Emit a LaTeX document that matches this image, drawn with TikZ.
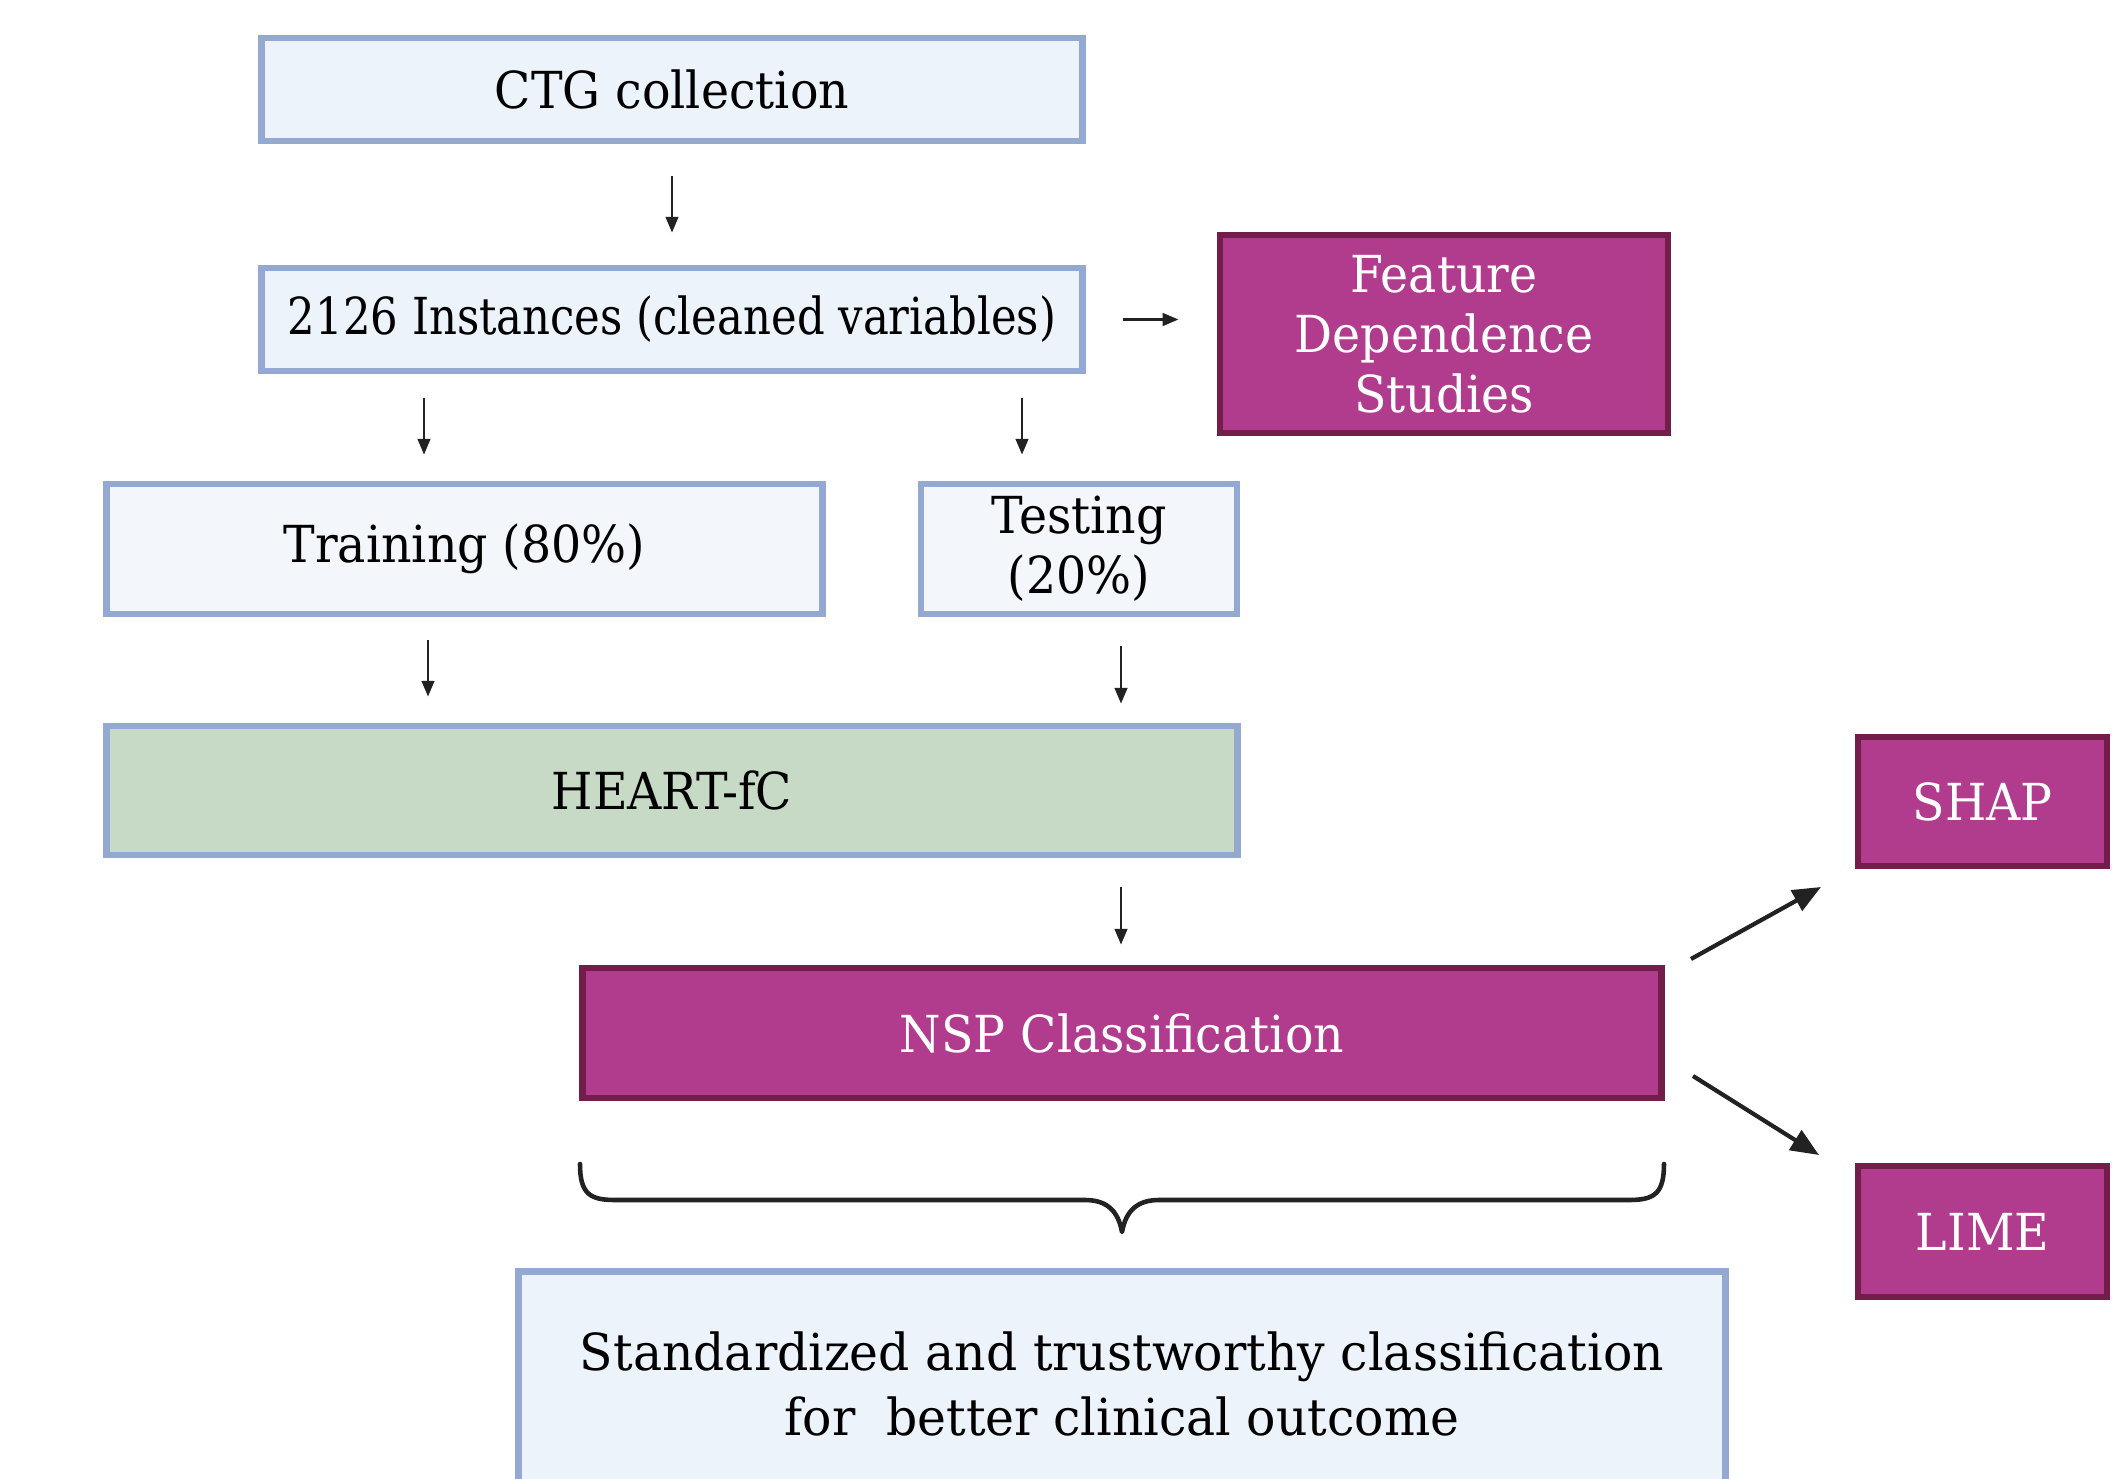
\documentclass[tikz,border=0pt]{standalone}
\usepackage{fontspec}
\setmainfont{DejaVu Serif}[FakeStretch=0.93]
\usetikzlibrary{arrows.meta}
\definecolor{bfill}{HTML}{EDF3FB}
\definecolor{tfill}{HTML}{F3F6FB}
\definecolor{bborder}{HTML}{93A9D2}
\definecolor{gfill}{HTML}{C7DAC6}
\definecolor{pfill}{HTML}{B13C8E}
\definecolor{pborder}{HTML}{731E4A}
\definecolor{arrc}{HTML}{222222}
\tikzset{
  bluebox/.style={draw=bborder, fill=bfill, line width=1.9pt, inner sep=0pt, align=center, font=\fontsize{14.5}{17}\selectfont},
  purpbox/.style={draw=pborder, fill=pfill, line width=1.9pt, inner sep=0pt, align=center, text=white, font=\fontsize{14.5}{17}\selectfont},
  thinarr/.style={draw=arrc, line width=0.7pt, -{Triangle[length=4.5pt,width=3.6pt]}},
  thickarr/.style={draw=arrc, line width=1.2pt, -{Triangle[length=8pt,width=6.5pt]}},
  bracestyle/.style={draw=arrc, line width=1.3pt, line cap=round, line join=round}
}
\begin{document}
\begin{tikzpicture}[x=0.01cm,y=-0.01cm]
\useasboundingbox (0,0) rectangle (2123,1479);
\fill[white] (0,0) rectangle (2123,1479);
\clip (0,0) rectangle (2123,1479);

\node[bluebox, minimum width=8.20cm, minimum height=1.03cm] (ctg) at (672,89.5) {CTG collection};
\node[bluebox, minimum width=8.20cm, minimum height=1.03cm] (inst) at (672,319.5) {\scalebox{0.915}[1]{2126 Instances (cleaned variables)}};
\node[purpbox, minimum width=4.48cm, minimum height=1.98cm] (feat) at (1444,334) {Feature\\Dependence\\Studies};
\node[bluebox, fill=tfill, minimum width=7.15cm, minimum height=1.30cm] (train) at (464.5,549) {Training (80\%)};
\node[bluebox, fill=tfill, minimum width=3.16cm, minimum height=1.30cm] (test) at (1079,549) {Testing\\(20\%)};
\node[bluebox, fill=gfill, minimum width=11.30cm, minimum height=1.29cm] (heart) at (672,790.5) {HEART-fC};
\node[purpbox, minimum width=10.78cm, minimum height=1.30cm] (nsp) at (1122,1033) {NSP Classification};
\node[purpbox, minimum width=2.49cm, minimum height=1.29cm] (shap) at (1982.5,801.5) {SHAP};
\node[purpbox, minimum width=2.49cm, minimum height=1.31cm] (lime) at (1982.5,1231.5) {LIME};
\node[bluebox, minimum width=12.06cm, minimum height=2.25cm, font=\fontsize{14.5}{18.5}\selectfont] (out) at (1122,1384) {\scalebox{1.03}[1]{Standardized and trustworthy classification}\\\scalebox{1.03}[1]{for\ \ better clinical outcome}};

\coordinate (xc) at (424,0);
\coordinate (xd) at (1022,0);
\coordinate (xe) at (428,0);
\coordinate (xf) at (1121,0);
\coordinate (s1) at (1691,959);
\coordinate (e1) at (1821,887);
\coordinate (s2) at (1693,1076);
\coordinate (e2) at (1819,1155);

\draw[thinarr, shorten <=0.32cm, shorten >=0.32cm] (ctg.south) -- (inst.north);
\draw[thinarr, shorten <=0.37cm, shorten >=0.38cm] (inst.east) -- (feat.west |- inst.east);
\draw[thinarr, shorten <=0.24cm, shorten >=0.26cm] (inst.south -| xc) -- (train.north -| xc);
\draw[thinarr, shorten <=0.24cm, shorten >=0.26cm] (inst.south -| xd) -- (test.north -| xd);
\draw[thinarr, shorten <=0.23cm, shorten >=0.26cm] (train.south -| xe) -- (heart.north -| xe);
\draw[thinarr, shorten <=0.29cm, shorten >=0.19cm] (test.south -| xf) -- (heart.north -| xf);
\draw[thinarr, shorten <=0.29cm, shorten >=0.20cm] (heart.south -| xf) -- (nsp.north -| xf);
\draw[thickarr] (s1) -- (e1);
\draw[thickarr] (s2) -- (e2);

\draw[bracestyle] (580,1164) .. controls (580,1194) and (590,1200) .. (615,1200)
  -- (1085,1200) .. controls (1106,1200) and (1118,1210) .. (1122,1232)
  .. controls (1126,1210) and (1138,1200) .. (1159,1200)
  -- (1629,1200) .. controls (1654,1200) and (1664,1194) .. (1664,1164);
\end{tikzpicture}
\end{document}
